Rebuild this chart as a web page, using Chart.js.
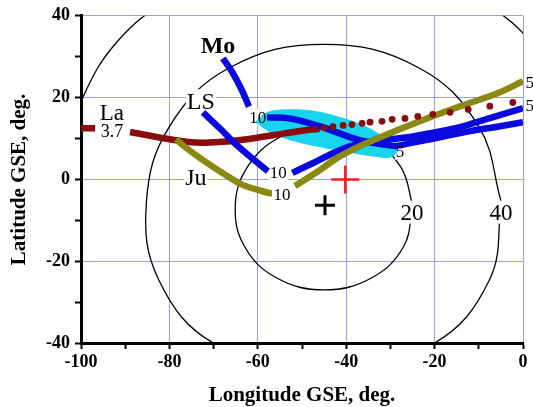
<!DOCTYPE html>
<html>
<head>
<meta charset="utf-8">
<script src="https://cdn.jsdelivr.net/npm/chart.js@4.4.1/dist/chart.umd.min.js"></script>
<style>
    html, body { margin: 0; padding: 0; background: #fff; }
    canvas { display: block; }
</style>
</head>
<body>
<canvas id="chart" width="533" height="407"></canvas>
<script>
// ---------------- DATA ----------------
// rings of 20, 40 and 60 deg round the black cross
const ring20Lon = [-24.9, -27.1, -34.3, -45.0, -55.7, -62.9, -65.1, -62.3, -55.0, -45.0, -35.0, -27.7, -24.9];
const ring20Lat = [-6.6, -16.6, -24.1, -27.0, -24.1, -16.6, -6.6, 3.1, 10.3, 13.0, 10.3, 3.1, -6.6];
const ring40Lon = [-4.9, -7.6, -20.5, -45.0, -69.6, -82.4, -85.2, -80.0, -66.4, -45.0, -23.6, -10.0, -4.9];
const ring40Lat = [-5.6, -24.6, -40.3, -47.0, -40.3, -24.6, -5.6, 12.9, 27.3, 33.0, 27.3, 12.9, -5.6];
const ring60WLon = [-103.1, -99.1, -92.5, -82.0, -72.0];
const ring60WLat = [8.8, 21.2, 32.8, 42.9, 48.2];
const ring60ELon = [-18.0, -8.1, 2.5, 9.1];
const ring60ELat = [48.2, 42.9, 32.8, 21.2];

// cyan region
const cyanLon = [-60.5, -58.0, -53.0, -47.0, -41.0, -36.5, -32.0, -28.5, -30.0, -33.0, -39.0, -45.0, -51.0, -56.6, -60.5];
const cyanLat = [14.0, 16.3, 17.0, 16.6, 15.0, 13.3, 10.6, 7.2, 5.5, 5.6, 6.6, 7.8, 9.2, 11.3, 14.0];

// La (dark red)
const laLon1 = [-100.0, -96.8];
const laLat1 = [12.5, 12.5];
const laLon2 = [-88.9, -81.0, -74.0, -68.0, -62.0, -56.6, -50.0, -46.0];
const laLat2 = [11.6, 10.0, 9.0, 9.2, 9.9, 10.8, 11.9, 12.4];
const laDotLon = [-47.0, -45.0, -43.0, -40.7, -38.7, -36.4, -34.6, -31.9, -29.6, -26.7, -23.8, -20.4, -16.5, -12.4, -7.5, -2.3];
const laDotLat = [12.3, 12.6, 12.9, 13.2, 13.4, 13.7, 14.0, 14.2, 14.7, 14.9, 15.4, 15.9, 16.4, 17.1, 17.9, 18.8];

// LS (blue)
const lsLon1 = [-72.4, -68.6, -64.7, -61.3, -57.7];
const lsLat1 = [16.4, 12.5, 8.3, 5.2, 2.0];
const lsLon2 = [-52.2, -47.5, -43.0, -38.5, -34.0, -30.0, -25.0, -21.0, -14.3, -7.5, 0.0];
const lsLat2 = [1.6, 4.0, 6.4, 8.3, 9.3, 9.8, 10.5, 11.3, 12.8, 15.0, 17.4];

// Mo (blue)
const moLon1 = [-67.9, -65.6, -63.6, -62.0];
const moLat1 = [29.6, 25.9, 21.8, 17.8];
const moLon2 = [-57.9, -52.7, -46.6, -42.1, -37.6, -32.0, -28.5, -25.6, -18.8, -12.0, -5.2, 0.0];
const moLat2 = [15.2, 14.9, 13.2, 11.5, 9.8, 8.6, 8.2, 8.9, 10.3, 11.8, 13.0, 14.0];

// Ju (olive)
const juLon1 = [-78.5, -76.9, -72.4, -67.9, -63.3, -57.2, -56.8];
const juLat1 = [9.8, 8.3, 4.7, 1.5, -1.4, -3.4, -3.4];
const juLon2 = [-51.6, -46.6, -42.1, -36.2, -28.5, -21.0, -13.6, -5.9, 0.0];
const juLat2 = [-1.6, 1.8, 5.2, 8.5, 12.0, 15.2, 18.1, 21.0, 24.0];

// crosses
const blackCross = [-44.8, -6.3];
const redCross = [-40.2, 0.0];

const FONT = '"Liberation Serif", "Times New Roman", serif';
const BLUE = '#0a0ade';
const OLIVE = '#8a8a12';
const DARKRED = '#8a0c0c';
const CYAN = '#18d4ee';
const GRID = '#9c9cff';

const pts = (xs, ys) => xs.map((x, i) => ({ x, y: ys[i] }));

function ring(xs, ys, order) {
    return {
        data: pts(xs, ys), showLine: true, borderColor: '#000', borderWidth: 1.3,
        pointRadius: 0, tension: 0.4, capBezierPoints: false, order
    };
}

function track(xs, ys, color, order) {
    return {
        data: pts(xs, ys), showLine: true, borderColor: color, borderWidth: 6.5,
        pointRadius: 0, tension: 0.35, capBezierPoints: false, order
    };
}

const datasets = [
    ring(ring60WLon, ring60WLat, 30),
    ring(ring60ELon, ring60ELat, 29),
    ring(ring40Lon, ring40Lat, 28),
    ring(ring20Lon, ring20Lat, 27),
    {
        data: pts(cyanLon, cyanLat), showLine: true, fill: 'shape',
        backgroundColor: CYAN, borderColor: CYAN, borderWidth: 1,
        pointRadius: 0, tension: 0.4, capBezierPoints: false, order: 20
    },
    track(laLon1, laLat1, DARKRED, 15),
    track(laLon2, laLat2, DARKRED, 14),
    track(lsLon1, lsLat1, BLUE, 13),
    track(lsLon2, lsLat2, BLUE, 12),
    track(moLon1, moLat1, BLUE, 11),
    track(moLon2, moLat2, BLUE, 10),
    track(juLon1, juLat1, OLIVE, 9),
    track(juLon2, juLat2, OLIVE, 8),
    {
        data: pts(laDotLon, laDotLat), showLine: false, pointRadius: 3.4,
        pointBackgroundColor: DARKRED, pointBorderWidth: 0, order: 5
    },
    {
        data: [{ x: redCross[0], y: redCross[1] }], pointStyle: 'cross', pointRadius: 14,
        pointBorderColor: '#ff1a1a', pointBorderWidth: 2.5, order: 3
    },
    {
        data: [{ x: blackCross[0], y: blackCross[1] }], pointStyle: 'cross', pointRadius: 10,
        pointBorderColor: '#000', pointBorderWidth: 3, order: 2
    }
];
const RING20 = 3;

// ---------------- NOTES ----------------
const notes = [
    ['Mo', -69.0, 32.8, 'bold 24px'],
    ['LS', -72.9, 19.1, '24px'],
    ['La', -93.0, 16.4, '23px'],
    ['3.7', -93.0, 11.8, '18px'],
    ['Ju', -74.0, 0.6, '24px'],
    ['10', -60.0, 15.2, '17px'],
    ['10', -55.4, 1.8, '17px'],
    ['10', -54.5, -3.6, '17px'],
    ['5', -27.8, 6.9, '17px'],
    ['5', 1.5, 23.6, '17px'],
    ['5', 1.5, 18.0, '17px'],
    ['20', -25.1, -8.0, '23px'],
    ['40', -5.0, -8.0, '23px']
];

function eachNote(chart, fn) {
    const { ctx, scales } = chart;
    notes.forEach(([text, lon, lat, font]) => {
        const size = parseFloat(font.match(/(\d+)px/)[1]);
        ctx.font = `${font} ${FONT}`;
        fn(ctx, text, scales.x.getPixelForValue(lon), scales.y.getPixelForValue(lat), size);
    });
}

const notesPlugin = {
    id: 'notes',
    // white patches under the notes, so rings and grid stop at them
    afterDatasetDraw(chart, args) {
        if (args.index !== RING20) return;
        const ctx = chart.ctx;
        ctx.save();
        eachNote(chart, (c, text, px, py, size) => {
            const w = c.measureText(text).width + 2;
            c.fillStyle = '#fff';
            c.fillRect(px - w / 2, py - size / 2, w, size);
        });
        ctx.restore();
    },
    afterDatasetsDraw(chart) {
        const ctx = chart.ctx;
        ctx.save();
        ctx.fillStyle = '#000';
        ctx.textAlign = 'center';
        ctx.textBaseline = 'alphabetic';
        eachNote(chart, (c, text, px, py, size) => {
            c.fillText(text, px, py + size * 0.33);
        });
        ctx.restore();
    }
};

// ---------------- CHART ----------------
const gridColor = ctx => (ctx.tick && ctx.tick.value % 20 === 0) ? GRID : 'rgba(0,0,0,0)';
const tickLabel = v => (v % 20 === 0 ? String(v) : '');

new Chart(document.getElementById('chart').getContext('2d'), {
    type: 'scatter',
    data: { datasets },
    options: {
        responsive: false,
        animation: false,
        layout: { autoPadding: false, padding: { top: 14, right: 10, left: 0, bottom: 0 } },
        plugins: { legend: { display: false }, tooltip: { enabled: false } },
        scales: {
            x: {
                type: 'linear', min: -100, max: 0,
                afterFit: s => { s.height = 64; },
                ticks: {
                    stepSize: 10, autoSkip: false, maxRotation: 0, padding: 3, color: '#000',
                    font: { family: FONT, size: 18, weight: 'bold' }, callback: tickLabel
                },
                grid: { color: gridColor, lineWidth: 1, tickColor: '#000', tickLength: 6, tickWidth: 2 },
                border: { color: '#000', width: 3 },
                title: {
                    display: true, text: 'Longitude GSE, deg.', color: '#000',
                    font: { family: FONT, size: 21, weight: 'bold', lineHeight: 1.1 },
                    padding: { top: 0, bottom: 0 }
                }
            },
            y: {
                type: 'linear', min: -40, max: 40,
                afterFit: s => { s.width = 81; },
                ticks: {
                    stepSize: 10, autoSkip: false, padding: 5, color: '#000',
                    font: { family: FONT, size: 18, weight: 'bold' }, callback: tickLabel
                },
                grid: { color: gridColor, lineWidth: 1, tickColor: '#000', tickLength: 6, tickWidth: 2 },
                border: { color: '#000', width: 3 },
                title: {
                    display: true, text: 'Latitude GSE, deg.', color: '#000',
                    font: { family: FONT, size: 21, weight: 'bold', lineHeight: 1.1 },
                    padding: { top: 8.5, bottom: 0 }
                }
            }
        }
    },
    plugins: [notesPlugin]
});
</script>
</body>
</html>
